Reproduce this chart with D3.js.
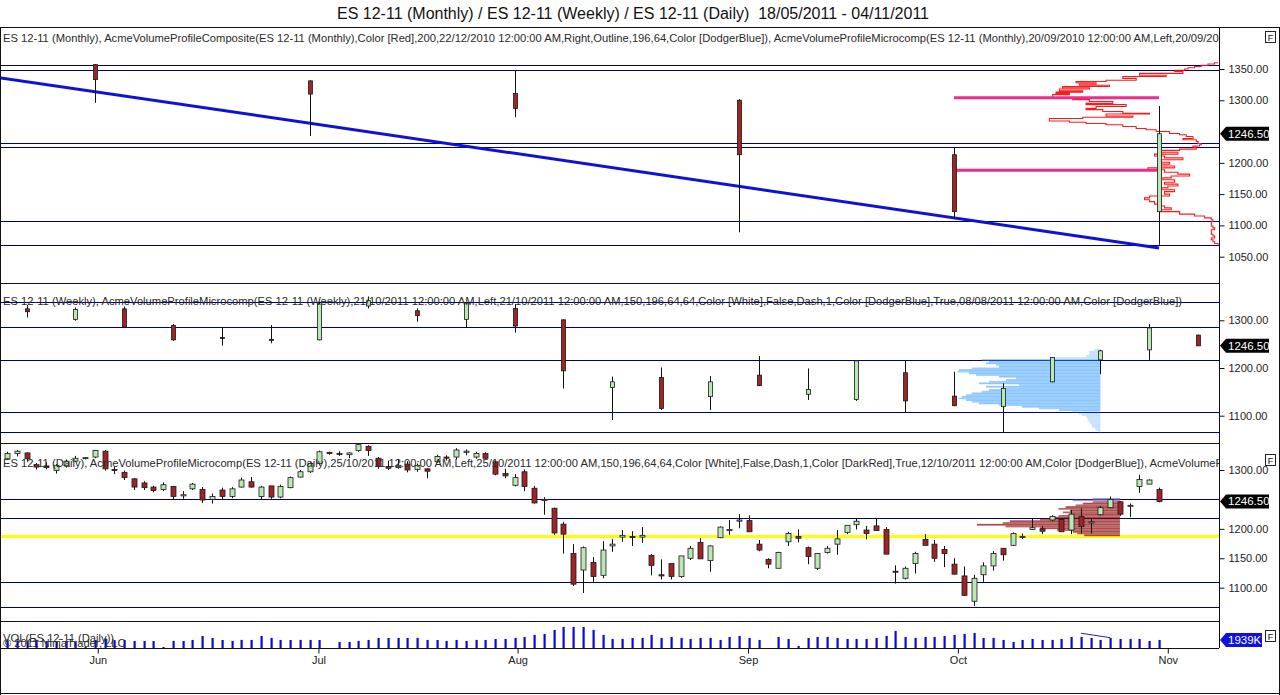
<!DOCTYPE html>
<html lang="en">
<head>
<meta charset="UTF-8">
<title>ES 12-11 Monthly / Weekly / Daily</title>
<style>
  html, body { margin: 0; padding: 0; background: #fff; }
  svg { display: block; font-family: "Liberation Sans", Arial, sans-serif; }
  text { white-space: pre; }
</style>
</head>
<body>
<script src="https://cdn.jsdelivr.net/npm/d3@7"></script>
<script>
// ---- data ----
// daily bars, one per weekday from 18/05/2011, [open, high, low, close]
const dailyOHLC = [
  [1319,1331,1317,1328],[1328,1334,1323,1332],[1329,1330,1314,1319],[1309,1312,1301,1305],[1307,1313,1301,1304],
  [1299,1310,1294,1308],[1307,1318,1304,1315],[1315,1324,1314,1320],[1320,1322,1318,1321],[1322,1334,1320,1333],
  [1332,1334,1299,1302],[1301,1306,1293,1299],[1296,1299,1283,1287],[1285,1286,1266,1271],[1278,1281,1266,1270],
  [1271,1273,1262,1265],[1267,1279,1264,1275],[1272,1273,1250,1255],[1256,1264,1251,1258],[1268,1278,1266,1276],
  [1267,1271,1244,1249],[1250,1260,1243,1255],[1266,1270,1250,1255],[1255,1271,1252,1268],[1271,1287,1270,1283],
  [1280,1288,1270,1271],[1255,1273,1249,1271],[1273,1273,1251,1254],[1254,1275,1252,1272],[1270,1289,1269,1287],
  [1288,1300,1287,1297],[1297,1313,1295,1311],[1311,1333,1309,1331],[1330,1331,1326,1328],[1328,1332,1324,1327],
  [1326,1330,1320,1329],[1333,1346,1331,1343],[1340,1342,1324,1333],[1320,1322,1302,1306],[1306,1316,1300,1303],
  [1304,1318,1302,1308],[1310,1315,1296,1300],[1301,1311,1297,1308],[1302,1303,1286,1298],[1314,1326,1312,1323],
  [1322,1325,1316,1320],[1322,1337,1318,1334],[1330,1335,1325,1332],[1322,1331,1319,1328],[1328,1330,1318,1320],
  [1314,1316,1291,1293],[1294,1302,1286,1290],[1274,1293,1272,1287],[1297,1301,1264,1272],[1269,1273,1243,1244],
  [1248,1254,1224,1250],[1235,1236,1190,1193],[1208,1212,1158,1191],[1158,1174,1103,1106],[1130,1170,1091,1168],
  [1143,1152,1110,1119],[1121,1179,1116,1164],[1171,1183,1161,1174],[1186,1198,1178,1189],[1187,1196,1171,1186],
  [1186,1203,1176,1189],[1155,1157,1121,1138],[1122,1148,1114,1120],[1141,1141,1114,1119],[1119,1154,1117,1154],
  [1150,1171,1147,1167],[1177,1184,1149,1149],[1146,1172,1127,1171],[1185,1204,1184,1203],[1197,1215,1190,1199],
  [1213,1225,1201,1215],[1214,1223,1195,1195],[1174,1181,1162,1164],[1148,1150,1133,1140],[1133,1161,1133,1160],
  [1178,1195,1171,1192],[1187,1199,1177,1184],[1168,1170,1140,1153],[1133,1159,1130,1158],[1160,1171,1158,1167],
  [1174,1198,1156,1183],[1194,1206,1191,1206],[1207,1217,1199,1213],[1198,1205,1182,1192],[1205,1217,1197,1197],
  [1199,1203,1157,1157],[1128,1138,1107,1127],[1116,1136,1114,1133],[1141,1161,1124,1158],[1182,1191,1172,1172],
  [1174,1181,1144,1150],[1165,1171,1135,1158],[1140,1150,1123,1123],[1120,1136,1086,1087],[1077,1122,1069,1116],
  [1122,1143,1110,1137],[1137,1162,1129,1158],[1167,1167,1146,1156],[1172,1194,1171,1192],[1186,1192,1183,1187],
  [1199,1218,1198,1202],[1200,1205,1191,1196],[1215,1223,1213,1221],[1216,1217,1195,1195],[1198,1232,1191,1225],
  [1221,1235,1192,1204],[1210,1218,1192,1212],[1224,1239,1223,1236],[1236,1255,1235,1250],[1246,1247,1222,1225],
  [1239,1243,1220,1240],[1272,1292,1261,1284],[1276,1284,1276,1283],[1267,1270,1245,1246.5]
];

// daily volume (K contracts), same order
const dailyVolume = [
  1700,1690,1720,1950,1680,1460,1470,1450,240,1930,2300,1900,1920,
  1690,1700,1680,240,1710,1690,1940,2900,2420,1930,1700,1950,1940,2910,2430,1940,1930,1950,1940,1930,
  0,
  1450,1460,1700,1940,2420,2430,2410,2420,2440,1940,1930,1700,1940,1690,1950,1940,2180,2190,2420,2660,
  3150,3390,4360,5080,5090,5070,4350,3150,2180,2190,2420,
  2420,3150,2420,2660,2420,2180,2430,2420,1940,2660,2900,2420,1940,
  0,
  2660,2180,480,2420,2660,2670,2420,2180,2190,2180,2420,2900,4110,2660,2420,2660,2670,2900,3150,3390,
  3630,2420,2430,1940,1450,1940,2180,1940,1950,2180,2660,2670,2420,1940,2420,2180,2190,2180,1700,1939
];

// weekly bars, stamped on the Friday
const weeklyDates = ['2011-05-20','2011-05-27','2011-06-03','2011-06-10','2011-06-17','2011-06-24','2011-07-01',
  '2011-07-08','2011-07-15','2011-07-22','2011-07-29','2011-08-05','2011-08-12','2011-08-19','2011-08-26',
  '2011-09-02','2011-09-09','2011-09-16','2011-09-23','2011-09-30','2011-10-07','2011-10-14','2011-10-21',
  '2011-10-28','2011-11-04'];
const weeklyOHLC = [
  [1324,1332,1306,1318],[1302,1327,1299,1323],[1324,1329,1285,1286],[1289,1292,1257,1259],[1264,1285,1247,1262],
  [1260,1290,1252,1258],[1259,1339,1258,1334],[1330,1350,1325,1341],[1320,1325,1297,1310],[1302,1339,1285,1336],
  [1325,1334,1274,1288],[1301,1302,1157,1194],[1159,1182,1091,1171],[1180,1201,1112,1115],[1140,1183,1112,1171],
  [1185,1225,1162,1163],[1145,1199,1133,1155],[1134,1216,1131,1215],[1190,1215,1107,1131],[1141,1192,1120,1121],
  [1119,1168,1066,1157],[1171,1223,1170,1222],[1217,1238,1187,1236],[1238,1292,1217,1284],[1269,1270,1246,1246.5]
];

// monthly bars, stamped on the last session of the month
const monthlyDates = ['2011-05-31','2011-06-30','2011-07-29','2011-08-31','2011-09-30','2011-10-31'];
const monthlyOHLC = [
  [1357,1358,1296,1333],[1331,1332,1243,1310],[1311,1348,1273,1287],
  [1300,1302,1089,1213],[1213,1224,1110,1122],[1122,1291,1069,1246.5]
];

// monthly composite volume profile outline: [price, volume]
const compProfile = [
  [1360,0],[1358,2],[1356,6],[1354,10],[1352,14],[1350,18],[1348,20],[1346,26],[1343,21],[1340,47],
  [1338,31],[1335,57],[1332,49],[1330,67],[1328,85],[1326,73],[1324,83],[1322,65],[1320,93],[1318,77],
  [1315,95],[1313,81],[1311,97],[1309,89],[1306,99],[1303,99],[1301,87],[1298,77],[1295,63],[1293,79],
  [1290,55],[1287,73],[1285,79],[1282,69],[1279,57],[1278,41],[1275,67],[1273,51],[1271,81],[1267,101],
  [1265,89],[1263,79],[1261,67],[1258,57],[1255,49],[1253,43],[1250,37],[1247,29],[1245,23],[1242,19],
  [1239,15],[1237,21],[1234,13],[1231,12],[1229,10],[1227,11],[1225,15],[1222,13],[1220,23],[1217,35],
  [1214,24],[1211,38],[1208,32],[1205,21],[1201,34],[1198,29],[1195,36],[1192,26],[1189,42],[1185,32],
  [1182,24],[1179,17],[1176,28],[1173,33],[1169,26],[1166,32],[1163,24],[1160,30],[1157,35],[1154,26],
  [1150,32],[1147,29],[1144,41],[1141,44],[1138,41],[1134,38],[1131,36],[1128,32],[1125,28],[1122,35],
  [1118,23],[1115,14],[1112,8],[1109,4],[1106,3],[1103,4],[1099,4],[1096,3],[1093,2],[1089,4],
  [1086,4],[1083,3],[1080,2],[1077,4],[1074,3],[1071,2],[1069,0]
];

// weekly microcomp profile (grows left from 21/10/2011)
const weeklyProfPrices = [1238,1234,1229,1225,1220,1217,1213,1210,1206,1203,1199,1196,1192,1189,1185,1182,1178,1175,
  1171,1168,1164,1161,1157,1154,1150,1147,1143,1140,1136,1133,1129,1126,1122,1119,1115,1112,1108,1105,1101,1098,
  1094,1091,1087,1084,1080,1077,1073,1070,1066];
const weeklyProfVolume = [4,8,8,10,34,83,78,80,73,71,90,99,100,92,87,71,59,66,78,85,57,80,66,78,83,90,94,97,99,94,
  90,85,71,55,43,29,20,15,13,10,9,9,8,7,6,6,4,3,1];

// daily microcomp profile (grows left from 25/10/2011)
const dailyProfPrices = [1251,1248,1246,1243,1240,1237,1234,1231,1228,1225,1222,1219,1216,1213,1210,1207,1204,1201,1198,1195,1192,1189];
const dailyProfVolume = [19,33,19,26,31,38,43,35,40,35,43,49,56,77,82,100,80,56,44,33,30,25];

// drawn horizontal lines per panel
const monthlyLevels = [1357, 1348, 1231, 1225, 1107, 1069];
const weeklyLevels = [1338, 1285, 1216, 1107, 1065];
const dailyLevels = [1251, 1218, 1110, 1067];
const dailyYellow = 1187;
const pocLines = [{from: '2011-09-30', to: '2011-10-31', price: 1304}, {from: '2011-09-30', to: '2011-10-31', price: 1188}];
const trendLine = [{pos: -0.72, price: 1336}, {pos: 118, price: 1064}];
const volLine = [{pos: 110, vol: 3560}, {pos: 113, vol: 2490}];

const monthlyTicks = [1050, 1100, 1150, 1200, 1300, 1350];
const weeklyTicks = [1100, 1200, 1300];
const dailyTicks = [1100, 1150, 1200, 1300];
const monthLabels = ['Jun', 'Jul', 'Aug', 'Sep', 'Oct', 'Nov'];
const monthTickPos = [9.3, 31.9, 52.3, 75.9, 97.4, 118.9];
const lastPrice = 1246.5;
const lastVolLabel = '1939K';

const titleText = 'ES 12-11 (Monthly) / ES 12-11 (Weekly) / ES 12-11 (Daily)  18/05/2011 - 04/11/2011';
const headers = {
  m: 'ES 12-11 (Monthly), AcmeVolumeProfileComposite(ES 12-11 (Monthly),Color [Red],200,22/12/2010 12:00:00 AM,Right,Outline,196,64,Color [DodgerBlue]), AcmeVolumeProfileMicrocomp(ES 12-11 (Monthly),20/09/2010 12:00:00 AM,Left,20/09/2010 12:00:00 AM,150,196,64,64,Color [White],False,Dash,1,Color [DodgerBlue])',
  w: 'ES 12-11 (Weekly), AcmeVolumeProfileMicrocomp(ES 12-11 (Weekly),21/10/2011 12:00:00 AM,Left,21/10/2011 12:00:00 AM,150,196,64,64,Color [White],False,Dash,1,Color [DodgerBlue],True,08/08/2011 12:00:00 AM,Color [DodgerBlue])',
  d: 'ES 12-11 (Daily), AcmeVolumeProfileMicrocomp(ES 12-11 (Daily),25/10/2011 12:00:00 AM,Left,25/10/2011 12:00:00 AM,150,196,64,64,Color [White],False,Dash,1,Color [DarkRed],True,12/10/2011 12:00:00 AM,Color [DodgerBlue]), AcmeVolumeProfileMicrocomp(ES 12-11 (Daily))'
};

// ---- layout ----
const W = 1280, H = 695;
const axisX = 1219;
const panels = {
  m: {top: 27, bottom: 283},
  w: {top: 283, bottom: 443},
  d: {top: 443, bottom: 621},
  v: {top: 621, bottom: 648}
};
const upFill = '#b9e8b3', downFill = '#9e2426', lineBlue = '#000080';

// sessions: every weekday 18/05/2011 .. 04/11/2011
const fmt = d3.timeFormat('%Y-%m-%d');
const sessions = d3.timeDay.range(new Date(2011, 4, 18), new Date(2011, 10, 5))
  .filter(d => d.getDay() > 0 && d.getDay() < 6).map(fmt);
const idxOf = new Map(sessions.map((s, i) => [s, i]));

const x = d3.scaleLinear().domain([0, 118]).range([7, 1159]);
const yM = d3.scaleLinear().domain([1050, 1350]).range([256.7, 69]);
const yW = d3.scaleLinear().domain([1100, 1300]).range([415.7, 320.3]);
const yD = d3.scaleLinear().domain([1100, 1300]).range([587.7, 470]);
const yV = d3.scaleLinear().domain([0, 6500]).range([648, 621]);

const toBars = (rows, dates) => rows.map((r, i) => ({
  i: dates ? idxOf.get(dates[i]) : i, o: r[0], h: r[1], l: r[2], c: r[3]
}));
const daily = toBars(dailyOHLC);
const weekly = toBars(weeklyOHLC, weeklyDates);
const monthly = toBars(monthlyOHLC, monthlyDates);

const svg = d3.select('body').append('svg').attr('width', W).attr('height', H);
const defs = svg.append('defs');
Object.entries(panels).forEach(([k, p]) => {
  defs.append('clipPath').attr('id', 'clip-' + k)
    .append('rect').attr('x', 1).attr('y', p.top + 1).attr('width', axisX - 1).attr('height', p.bottom - p.top - 1);
});
const layer = k => svg.append('g').attr('clip-path', `url(#clip-${k})`);

// title
svg.append('text').attr('x', 633).attr('y', 19).attr('text-anchor', 'middle')
  .attr('font-size', 16).attr('fill', '#111').text(titleText);

function hLines(g, levels, y) {
  g.selectAll(null).data(levels).join('line')
    .attr('x1', 0).attr('x2', axisX)
    .attr('y1', d => Math.round(y(d)) + 0.5).attr('y2', d => Math.round(y(d)) + 0.5)
    .attr('stroke', lineBlue).attr('stroke-width', 1);
}

function candles(g, bars, y, w) {
  const c = g.selectAll(null).data(bars).join('g');
  c.append('line')
    .attr('x1', d => Math.round(x(d.i)) + 0.5).attr('x2', d => Math.round(x(d.i)) + 0.5)
    .attr('y1', d => y(d.h)).attr('y2', d => y(d.l))
    .attr('stroke', '#111').attr('stroke-width', 1);
  c.append('rect')
    .attr('x', d => Math.round(x(d.i)) - w / 2 + 0.5)
    .attr('width', w)
    .attr('y', d => y(Math.max(d.o, d.c)))
    .attr('height', d => Math.max(1, Math.abs(y(d.o) - y(d.c))))
    .attr('fill', d => d.c >= d.o ? upFill : downFill)
    .attr('stroke', '#1a1a1a').attr('stroke-width', 0.8);
}

function header(k, text, yy) {
  layer(k).append('text').attr('x', 3).attr('y', yy).attr('font-size', 11.2)
    .attr('fill', '#2a2a2a').text(text);
}

// profile rows: each row spans halfway to its neighbours
function rowEdges(prices) {
  return prices.map((p, i) => {
    const up = i > 0 ? (prices[i - 1] + p) / 2 : p + (p - prices[i + 1]) / 2;
    const dn = i < prices.length - 1 ? (prices[i + 1] + p) / 2 : p - (prices[i - 1] - p) / 2;
    return {top: up, bottom: dn};
  });
}

// ---- monthly panel ----
const gm = layer('m');
hLines(gm, monthlyLevels, yM);
const xComp = d3.scaleLinear().domain([0, 100]).range([1218, 1051]);
gm.append('path')
  .datum(compProfile)
  .attr('d', d3.line().curve(d3.curveStepAfter).x(d => xComp(d[1])).y(d => yM(d[0])))
  .attr('fill', 'none').attr('stroke', '#ff1a1a').attr('stroke-width', 1.1);
gm.selectAll(null).data(pocLines).join('line')
  .attr('x1', d => x(idxOf.get(d.from))).attr('x2', d => x(idxOf.get(d.to)))
  .attr('y1', d => yM(d.price)).attr('y2', d => yM(d.price))
  .attr('stroke', '#ec2c8c').attr('stroke-width', 3);
gm.append('path').datum(trendLine)
  .attr('d', d3.line().x(d => x(d.pos)).y(d => yM(d.price)))
  .attr('stroke', '#1010d8').attr('stroke-width', 3).attr('fill', 'none');
candles(gm, monthly, yM, 4);
header('m', headers.m, 42);

// ---- weekly panel ----
const gw = layer('w');
hLines(gw, weeklyLevels, yW);
const wpRight = x(idxOf.get('2011-10-21'));
const xWp = d3.scaleLinear().domain([0, 100]).range([wpRight, wpRight - 143]);
const wEdges = rowEdges(weeklyProfPrices);
gw.selectAll(null).data(weeklyProfPrices.map((p, i) => ({p, v: weeklyProfVolume[i], i, e: wEdges[i]}))).join('rect')
  .attr('x', d => xWp(d.v)).attr('width', d => wpRight - xWp(d.v))
  .attr('y', d => yW(d.e.top)).attr('height', d => yW(d.e.bottom) - yW(d.e.top))
  .attr('fill', '#1e90ff')
  .attr('fill-opacity', d => (d.p > 1218 || d.p < 1110) ? 0.25 : (d.i % 2 ? 0.52 : 0.44));
candles(gw, weekly, yW, 4);
header('w', headers.w, 305);

// ---- daily panel ----
const gd = layer('d');
hLines(gd, dailyLevels, yD);
gd.append('line').attr('x1', 0).attr('x2', axisX)
  .attr('y1', yD(dailyYellow)).attr('y2', yD(dailyYellow))
  .attr('stroke', '#ffff00').attr('stroke-width', 3);
const dpRight = x(idxOf.get('2011-10-25'));
const xDp = d3.scaleLinear().domain([0, 100]).range([dpRight, dpRight - 143]);
const dEdges = rowEdges(dailyProfPrices);
gd.selectAll(null).data(dailyProfPrices.map((p, i) => ({p, v: dailyProfVolume[i], i, e: dEdges[i]}))).join('rect')
  .attr('x', d => xDp(d.v)).attr('width', d => dpRight - xDp(d.v))
  .attr('y', d => yD(d.e.top)).attr('height', d => yD(d.e.bottom) - yD(d.e.top))
  .attr('fill', d => d.p >= 1248 ? '#7d72d0' : '#8b0000')
  .attr('fill-opacity', d => d.p >= 1248 ? 0.7 : (d.i % 2 ? 0.7 : 0.6));
candles(gd, daily, yD, 5);
header('d', headers.d, 467);

// ---- volume panel ----
const gv = layer('v');
gv.selectAll(null).data(dailyVolume.map((v, i) => ({v, i}))).join('rect')
  .attr('x', d => Math.round(x(d.i)) - 0.5).attr('width', 2.2)
  .attr('y', d => yV(d.v)).attr('height', d => yV(0) - yV(d.v))
  .attr('fill', '#0a0ad6');
gv.append('path').datum(volLine)
  .attr('d', d3.line().x(d => x(d.pos)).y(d => yV(d.vol)))
  .attr('stroke', '#2222cc').attr('stroke-width', 1).attr('fill', 'none');
header('v', 'VOL(ES 12-11 (Daily))', 642);
header('v', '\u00a9 2011 NinjaTrader, LLC', 647);

// ---- frame ----
const frame = svg.append('g').attr('stroke', '#111').attr('stroke-width', 1).attr('shape-rendering', 'crispEdges');
frame.append('line').attr('x1', 0).attr('x2', W).attr('y1', 27.5).attr('y2', 27.5);
frame.append('line').attr('x1', 0.5).attr('x2', 0.5).attr('y1', 27).attr('y2', H);
frame.append('line').attr('x1', W - 0.5).attr('x2', W - 0.5).attr('y1', 27).attr('y2', H);
frame.append('line').attr('x1', 0).attr('x2', W).attr('y1', H - 1.5).attr('y2', H - 1.5);
frame.append('line').attr('x1', axisX + 0.5).attr('x2', axisX + 0.5).attr('y1', 27).attr('y2', 648);
[283, 443, 621, 648].forEach(yy => frame.append('line')
  .attr('x1', 0).attr('x2', axisX).attr('y1', yy + 0.5).attr('y2', yy + 0.5));

// ---- price axes ----
function priceAxis(y, ticks) {
  const a = svg.append('g').attr('transform', `translate(${axisX + 0.5},0)`)
    .call(d3.axisRight(y).tickValues(ticks).tickSize(5).tickPadding(4).tickFormat(d3.format('.2f')));
  a.select('.domain').remove();
  a.selectAll('line').attr('stroke', '#111');
  a.selectAll('text').attr('font-size', 11).attr('font-family', '"Liberation Sans", Arial, sans-serif').attr('fill', '#222');
}
priceAxis(yM, monthlyTicks);
priceAxis(yW, weeklyTicks);
priceAxis(yD, dailyTicks);

function marker(yy, text, fill, right) {
  const g = svg.append('g');
  g.append('path')
    .attr('d', `M${axisX + 1},${yy} L${axisX + 7},${yy - 7} L${right},${yy - 7} L${right},${yy + 7} L${axisX + 7},${yy + 7} Z`)
    .attr('fill', fill);
  g.append('text').attr('x', axisX + 9).attr('y', yy + 4).attr('font-size', 11.5)
    .attr('fill', '#fff').text(text);
}
const priceFmt = d3.format('.2f');
marker(yM(lastPrice), priceFmt(lastPrice), '#000', 1269);
marker(yW(lastPrice), priceFmt(lastPrice), '#000', 1269);
marker(yD(lastPrice), priceFmt(lastPrice), '#000', 1269);
marker(yV(dailyVolume[dailyVolume.length - 1]), lastVolLabel, '#1010e0', 1262);

// F buttons
[{y: 31}, {y: 454}, {y: 630}].forEach(b => {
  svg.append('rect').attr('x', 1265.5).attr('y', b.y + 0.5).attr('width', 10).attr('height', 11)
    .attr('fill', '#fff').attr('stroke', '#222');
  svg.append('text').attr('x', 1270.5).attr('y', b.y + 9.5).attr('text-anchor', 'middle')
    .attr('font-size', 9).attr('fill', '#111').text('F');
});

// ---- date axis ----
const da = svg.append('g').attr('transform', 'translate(0,648.5)')
  .call(d3.axisBottom(x).tickValues(monthTickPos).tickSize(5).tickPadding(3)
    .tickFormat((d, i) => monthLabels[i]));
da.select('.domain').remove();
da.selectAll('line').attr('stroke', '#111');
da.selectAll('text').attr('font-size', 11).attr('font-family', '"Liberation Sans", Arial, sans-serif').attr('fill', '#222');
</script>
</body>
</html>
